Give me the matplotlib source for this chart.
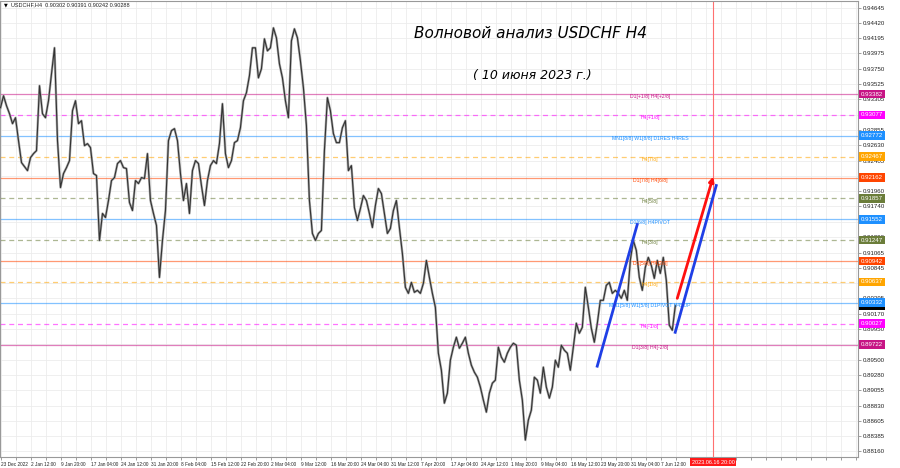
import matplotlib
matplotlib.use("Agg")
import matplotlib.pyplot as plt
import numpy as np

plt.rcParams['font.family'] = ['Liberation Sans', 'DejaVu Sans']

# H4 closes, one reading every 3.2 bars
closes = [
    0.93182, 0.93357, 0.93211, 0.93094, 0.92949, 0.93036, 0.92701, 0.92380, 0.92322, 0.92263,
    0.92453, 0.92511, 0.92555, 0.93503, 0.93094, 0.93036, 0.93284, 0.93678, 0.94057, 0.92701,
    0.92016, 0.92220, 0.92307, 0.92409, 0.93138, 0.93284, 0.92949, 0.92992, 0.92628, 0.92657,
    0.92599, 0.92220, 0.92191, 0.91243, 0.91637, 0.91578, 0.91826, 0.92118, 0.92161, 0.92366,
    0.92409, 0.92307, 0.92293, 0.91797, 0.91680, 0.92118, 0.92074, 0.92161, 0.92147, 0.92511,
    0.91826, 0.91637, 0.91462, 0.90703, 0.91243, 0.91680, 0.92701, 0.92847, 0.92876, 0.92701,
    0.92220, 0.91826, 0.92074, 0.91637, 0.92263, 0.92409, 0.92366, 0.92045, 0.91753, 0.92118,
    0.92336, 0.92409, 0.92366, 0.92657, 0.93240, 0.92511, 0.92307, 0.92409, 0.92672, 0.92701,
    0.92890, 0.93284, 0.93401, 0.93649, 0.94057, 0.94057, 0.93619, 0.93751, 0.94188, 0.94013,
    0.94057, 0.94348, 0.94203, 0.93824, 0.93619, 0.93284, 0.93036, 0.94159, 0.94334, 0.94203,
    0.93867, 0.93474, 0.92920, 0.91826, 0.91345, 0.91243, 0.91345, 0.91389, 0.92555, 0.93328,
    0.93138, 0.92803, 0.92672, 0.92672, 0.92890, 0.92992, 0.92263, 0.92336, 0.91724, 0.91534,
    0.91709, 0.91899, 0.91826, 0.91637, 0.91432, 0.91753, 0.92001, 0.91928, 0.91637, 0.91345,
    0.91418, 0.91680, 0.91826, 0.91432, 0.91053, 0.90558, 0.90470, 0.90630, 0.90485, 0.90514,
    0.90470, 0.90616, 0.90951, 0.90703, 0.90470, 0.90266, 0.89595, 0.89347, 0.88866, 0.89012,
    0.89493, 0.89683, 0.89829, 0.89668, 0.89741, 0.89829, 0.89595, 0.89420, 0.89318, 0.89245,
    0.89100, 0.88910, 0.88735, 0.89012, 0.89158, 0.89202, 0.89683, 0.89537, 0.89464, 0.89595,
    0.89683, 0.89741, 0.89712, 0.89202, 0.88910, 0.88327, 0.88618, 0.88764, 0.89245, 0.89202,
    0.89012, 0.89391, 0.89100, 0.88939, 0.89100, 0.89493, 0.89391, 0.89712, 0.89639, 0.89595,
    0.89347, 0.89683, 0.90033, 0.89887, 0.89974, 0.90558, 0.90266, 0.89960, 0.89756, 0.90033,
    0.90368, 0.90368, 0.90587, 0.90630, 0.90470, 0.90514, 0.90470, 0.90397, 0.90514, 0.90368,
    0.90951, 0.91243, 0.91097, 0.90703, 0.90514, 0.90849, 0.90995, 0.90878, 0.90689, 0.90951,
    0.90762, 0.90995, 0.90660, 0.90004, 0.89931, 0.90288,
]
bar_step = 3.2
first_bar = -1.0

date_labels = ["23 Dec 2022", "2 Jan 12:00", "9 Jan 20:00", "17 Jan 04:00", "24 Jan 12:00",
               "31 Jan 20:00", "8 Feb 04:00", "15 Feb 12:00", "22 Feb 20:00", "2 Mar 04:00",
               "9 Mar 12:00", "16 Mar 20:00", "24 Mar 04:00", "31 Mar 12:00", "7 Apr 20:00",
               "17 Apr 04:00", "24 Apr 12:00", "1 May 20:00", "9 May 04:00", "16 May 12:00",
               "23 May 20:00", "31 May 04:00", "7 Jun 12:00"]
bars_per_label = 32

price_ticks = [0.94645, 0.94420, 0.94195, 0.93975, 0.93750, 0.93525, 0.93305, 0.93080,
               0.92855, 0.92630, 0.92405, 0.92185, 0.91960, 0.91740, 0.91515, 0.91290,
               0.91065, 0.90845, 0.90620, 0.90395, 0.90170, 0.89950, 0.89725, 0.89500,
               0.89280, 0.89055, 0.88830, 0.88605, 0.88385, 0.88160]

# Murrey levels
level_prices = [0.93382, 0.93077, 0.92772, 0.92467, 0.92162, 0.91857, 0.91552,
                0.91247, 0.90942, 0.90637, 0.90332, 0.90027, 0.89722]
level_names = ["D1[+1/8] H4[+2/8]", "H4[+1/8]", "MN1[8/8] W1[8/8] D1RES H4RES", "H4[7/8]",
               "D1[7/8] H4[6/8]", "H4[5/8]", "D1[6/8] H4PIVOT", "H4[3/8]", "D1[5/8] H4[2/8]",
               "H4[1/8]", "MN1[5/8] W1[5/8] D1PIVOT H4SUP", "H4[-1/8]", "D1[3/8] H4[-2/8]"]
level_colors = ["#c71585", "#ff00ff", "#1e90ff", "#ffa500", "#ff4500", "#6b7d3a", "#1e90ff",
                "#6b7d3a", "#ff4500", "#ffa500", "#1e90ff", "#ff00ff", "#c71585"]
level_dashed = [False, True, False, True, False, True, False, True, False, True, False, True, False]
label_bar = 692

# trend lines drawn on the chart: (bar, price) pairs
blue_lines = [[(635.7, 0.89406), (678.4, 0.91476)],
              [(718.9, 0.89901), (762.7, 0.92045)]]
red_arrow = [(721.1, 0.90397), (759.5, 0.92176)]

future_bar = 759.5
future_label = "2023.06.16 20:00"
bid = 0.90288
header = "USDCHF,H4  0.90302 0.90391 0.90242 0.90288"

fig = plt.figure(figsize=(9, 4.68), dpi=100)
ax = fig.add_axes([0.0005, 0.0235, 0.953, 0.9745])
ax.set_xlim(-1.07, 914.1)
ax.set_ylim(0.88079, 0.94742)

# price scale: labels that sit under a level marker are hidden, like the terminal does
ax.set_yticks(price_ticks)
ax.set_yticklabels([f"{t:.5f}" if min(abs(t - p) for p in level_prices) > 0.0004 else ""
                    for t in price_ticks])
ax.yaxis.tick_right()
ax.tick_params(axis='y', labelsize=4.4, length=2, width=0.5, color='#777777', pad=1.5,
               labelcolor='#222222')

# time scale: grid every half label step
tick_bars = np.arange(0, 914, bars_per_label // 2)
tick_text = [date_labels[k // 2] if k % 2 == 0 and k // 2 < len(date_labels) else ""
             for k in range(len(tick_bars))]
ax.set_xticks(tick_bars)
ax.set_xticklabels(tick_text, ha='left')
ax.tick_params(axis='x', labelsize=3.4, length=2, width=0.5, color='#777777', pad=1.5,
               labelcolor='#222222')
ax.grid(True, color='#ececec', lw=0.6)
ax.set_axisbelow(True)
for s in ax.spines.values():
    s.set_color('#999999')
    s.set_linewidth(0.8)

# levels
for p, name, c, d in zip(level_prices, level_names, level_colors, level_dashed):
    ax.axhline(p, color=c, lw=0.9, alpha=0.55, ls=(0, (4, 3)) if d else '-', zorder=1)
    ax.text(label_bar, p - 0.00004, name, color=c, fontsize=3.7, ha='center', va='top', zorder=4)

# price
x = first_bar + bar_step * np.arange(len(closes))
ax.plot(x, closes, color='#a8a8a8', lw=1.7, zorder=2)
ax.plot(x, closes, color='#333333', lw=0.8, zorder=3)

# trend lines
for line in blue_lines:
    ax.plot([line[0][0], line[1][0]], [line[0][1], line[1][1]], color='#1f3fe6', lw=2.0, zorder=5)
ax.annotate('', xy=red_arrow[1], xytext=red_arrow[0],
            arrowprops=dict(arrowstyle='-|>', color='#ff1010', lw=2.0, mutation_scale=7,
                            shrinkA=0, shrinkB=0), zorder=5)

# future time line
ax.axvline(future_bar, color='#ff7070', lw=0.8, zorder=1)
ax.text(future_bar, -0.006, future_label, transform=ax.get_xaxis_transform(), ha='center', va='top',
        fontsize=4.0, color='white', clip_on=False,
        bbox=dict(boxstyle='square,pad=0.3', fc='#ff1a1a', ec='none'))

# price markers on the scale
ax.text(1.003, bid, f"{bid:.5f}", transform=ax.get_yaxis_transform(), va='center', ha='left',
        fontsize=4.4, color='white', clip_on=False,
        bbox=dict(boxstyle='square,pad=0.3', fc='black', ec='none'))
for p, c in zip(level_prices, level_colors):
    ax.text(1.003, p, f"{p:.5f}", transform=ax.get_yaxis_transform(), va='center', ha='left',
            fontsize=4.4, color='white', clip_on=False,
            bbox=dict(boxstyle='square,pad=0.3', fc=c, ec='none'))

# header and title
fig.text(4 / 900, 1 - 5 / 468, "▼", fontsize=3.5, va='center', family='DejaVu Sans')
fig.text(11 / 900, 1 - 5 / 468, header, fontsize=4.0, va='center', color='#222222')
fig.text(530 / 900, 1 - 33 / 468, "Волновой анализ USDCHF H4", fontsize=11, style='italic',
         ha='center', va='center', family='DejaVu Sans')
fig.text(532 / 900, 1 - 75 / 468, "( 10 июня 2023 г.)", fontsize=9, style='italic',
         ha='center', va='center', family='DejaVu Sans')

fig.savefig("out.png", dpi=100)
